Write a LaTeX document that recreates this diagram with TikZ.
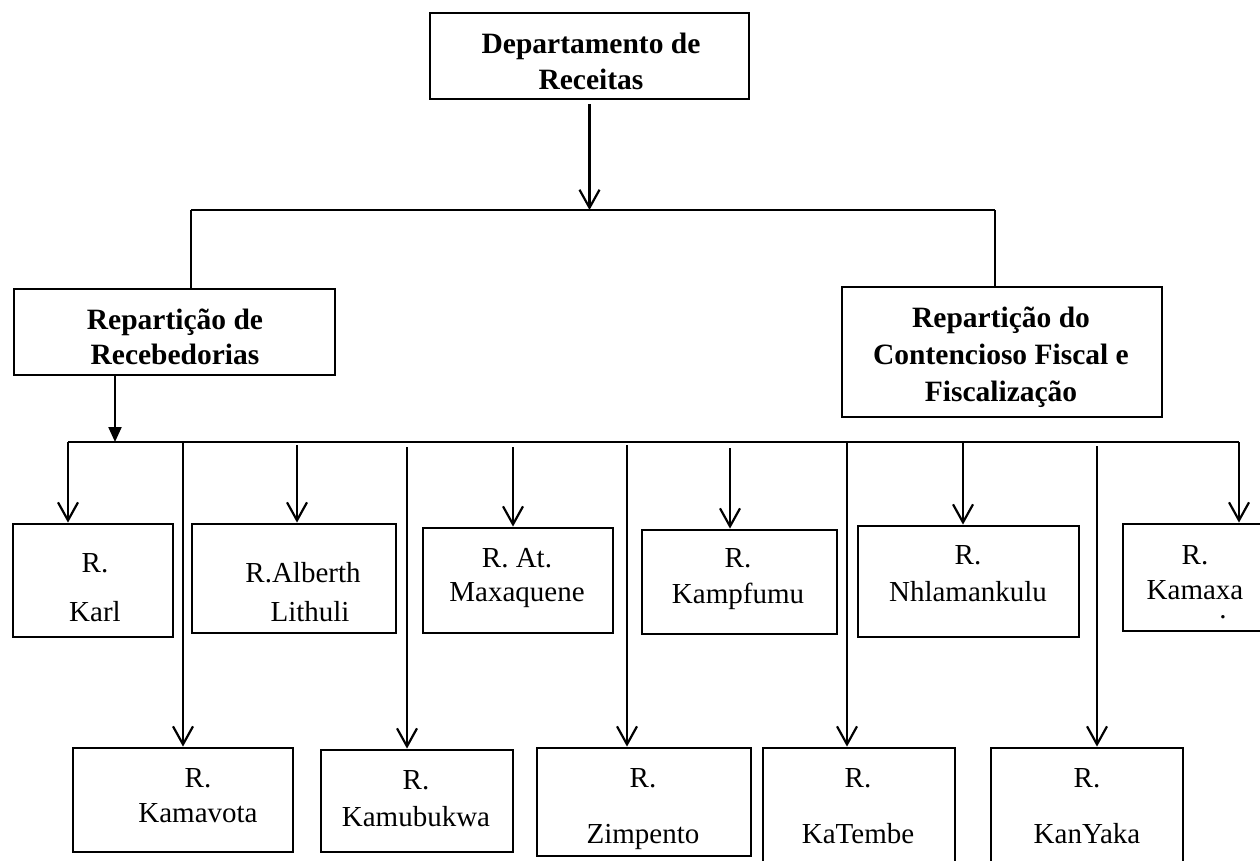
\documentclass[tikz,border=0pt]{standalone}
\usepackage{fontspec}
\setmainfont{Liberation Serif}
\usetikzlibrary{arrows.meta}
\begin{document}
\begin{tikzpicture}[x=1pt,y=-1pt,
  box/.style={draw, line width=2.8pt, inner sep=0pt},
  lbl/.style={align=center, inner sep=0pt, font=\fontsize{29}{35}\selectfont},
  blbl/.style={align=center, inner sep=0pt, font=\bfseries\fontsize{29.5}{35}\selectfont},
  conn/.style={line width=2.2pt},
  openarr/.style={conn, -{Straight Barb[length=18pt,width=20pt,line width=2.2pt]}},
  fillarr/.style={conn, -{Triangle[length=15pt,width=13pt]}}]
\useasboundingbox (0,0) rectangle (1260,861);
\fill[white] (0,0) rectangle (1260,861);
\clip (0,0) rectangle (1260,861);

% top levels
\node[box, minimum width=319pt, minimum height=86pt] (dep) at (589.5,56) {};
\node[blbl] (depT) at (591,61.5) {Departamento de\\[1pt]Receitas};
\node[box, minimum width=321pt, minimum height=86pt] (rec) at (174.5,332) {};
\node[blbl] (recT) at (175,337) {Repartição de\\[0pt]Recebedorias};
\node[box, minimum width=320pt, minimum height=130pt] (cont) at (1002,352) {};
\node[blbl] (contT) at (1001,357.5) {Repartição do\\[2pt]Contencioso Fiscal e\\[2pt]Fiscalização};

% first row
\node[box, minimum width=160pt, minimum height=113pt] (karl) at (93,580.5) {};
\node[lbl] (karlT) at (95,588) {R.\\[14pt]Karl};
\node[box, minimum width=204pt, minimum height=109pt] (alb) at (294,578.5) {};
\node[lbl] (albT) at (303,592.5) {R.Alberth\\[4pt]\hspace*{14pt}Lithuli};
\node[box, minimum width=190pt, minimum height=105pt] (max) at (518,580.5) {};
\node[lbl] (maxT) at (517,578) {R. At.\\[-1pt]Maxaquene};
\node[box, minimum width=195pt, minimum height=104pt] (kamp) at (739.5,582) {};
\node[lbl] (kampT) at (738,579) {R.\\[1pt]Kampfumu};
\node[box, minimum width=221pt, minimum height=111pt] (nhl) at (968.5,581.5) {};
\node[lbl] (nhlT) at (968,573.5) {R.\\[2pt]Nhlamankulu};
\node[box, minimum width=144pt, minimum height=107pt] (kmx) at (1195,577.5) {};
\node[lbl] (kmxT) at (1195,582) {R.\\[0pt]Kamaxa\\[-15.5pt]\hspace*{56pt}.};

% second row
\node[box, minimum width=220pt, minimum height=104pt] (kmv) at (183,800) {};
\node[lbl] (kmvT) at (198,795.5) {R.\\[0pt]Kamavota};
\node[box, minimum width=192pt, minimum height=102pt] (kmb) at (417,801) {};
\node[lbl] (kmbT) at (416,798.5) {R.\\[2pt]Kamubukwa};
\node[box, minimum width=214pt, minimum height=108pt] (zim) at (644,802) {};
\node[lbl] (zimT) at (643,809) {R.\\[20.5pt]Zimpento};
\node[box, minimum width=192pt, minimum height=122pt] (kat) at (859,809) {};
\node[lbl] (katT) at (858,806) {R.\\[21.5pt]KaTembe};
\node[box, minimum width=192pt, minimum height=122pt] (kan) at (1087,809) {};
\node[lbl] (kanT) at (1087,806) {R.\\[21.5pt]KanYaka};

% connectors top
\coordinate (topJ) at (589.5,210);
\coordinate (barL) at (191,210);
\coordinate (barR) at (995,210);
\draw[openarr, shorten <=4pt] (dep) -- (topJ);
\draw[conn] (barL) -- (barR);
\draw[conn] (barL) -- (barL |- rec.north);
\draw[conn] (barR) -- (barR |- cont.north);

% recebedorias bar
\coordinate (recJ) at (115,442);
\coordinate (bar2L) at (68,442);
\coordinate (bar2R) at (1239,442);
\draw[fillarr] (rec.south -| recJ) -- (recJ);
\draw[conn] (bar2L) -- (bar2R);

% children
\coordinate (cKarl) at (68,442);
\coordinate (cKmv) at (183,443);
\coordinate (cAlb) at (297,445);
\coordinate (cKmb) at (407,447);
\coordinate (cMax) at (513,447);
\coordinate (cZim) at (627,445);
\coordinate (cKamp) at (730,448);
\coordinate (cKat) at (847,443);
\coordinate (cNhl) at (963,443);
\coordinate (cKan) at (1097,446);
\coordinate (cKmx) at (1239,442);
\draw[openarr] (cKarl) -- (cKarl |- karl.north);
\draw[openarr] (cKmv) -- (cKmv |- kmv.north);
\draw[openarr] (cAlb) -- (cAlb |- alb.north);
\draw[openarr] (cKmb) -- (cKmb |- kmb.north);
\draw[openarr] (cMax) -- (cMax |- max.north);
\draw[openarr] (cZim) -- (cZim |- zim.north);
\draw[openarr] (cKamp) -- (cKamp |- kamp.north);
\draw[openarr] (cKat) -- (cKat |- kat.north);
\draw[openarr] (cNhl) -- (cNhl |- nhl.north);
\draw[openarr] (cKan) -- (cKan |- kan.north);
\draw[openarr] (cKmx) -- (cKmx |- kmx.north);
\end{tikzpicture}
\end{document}
